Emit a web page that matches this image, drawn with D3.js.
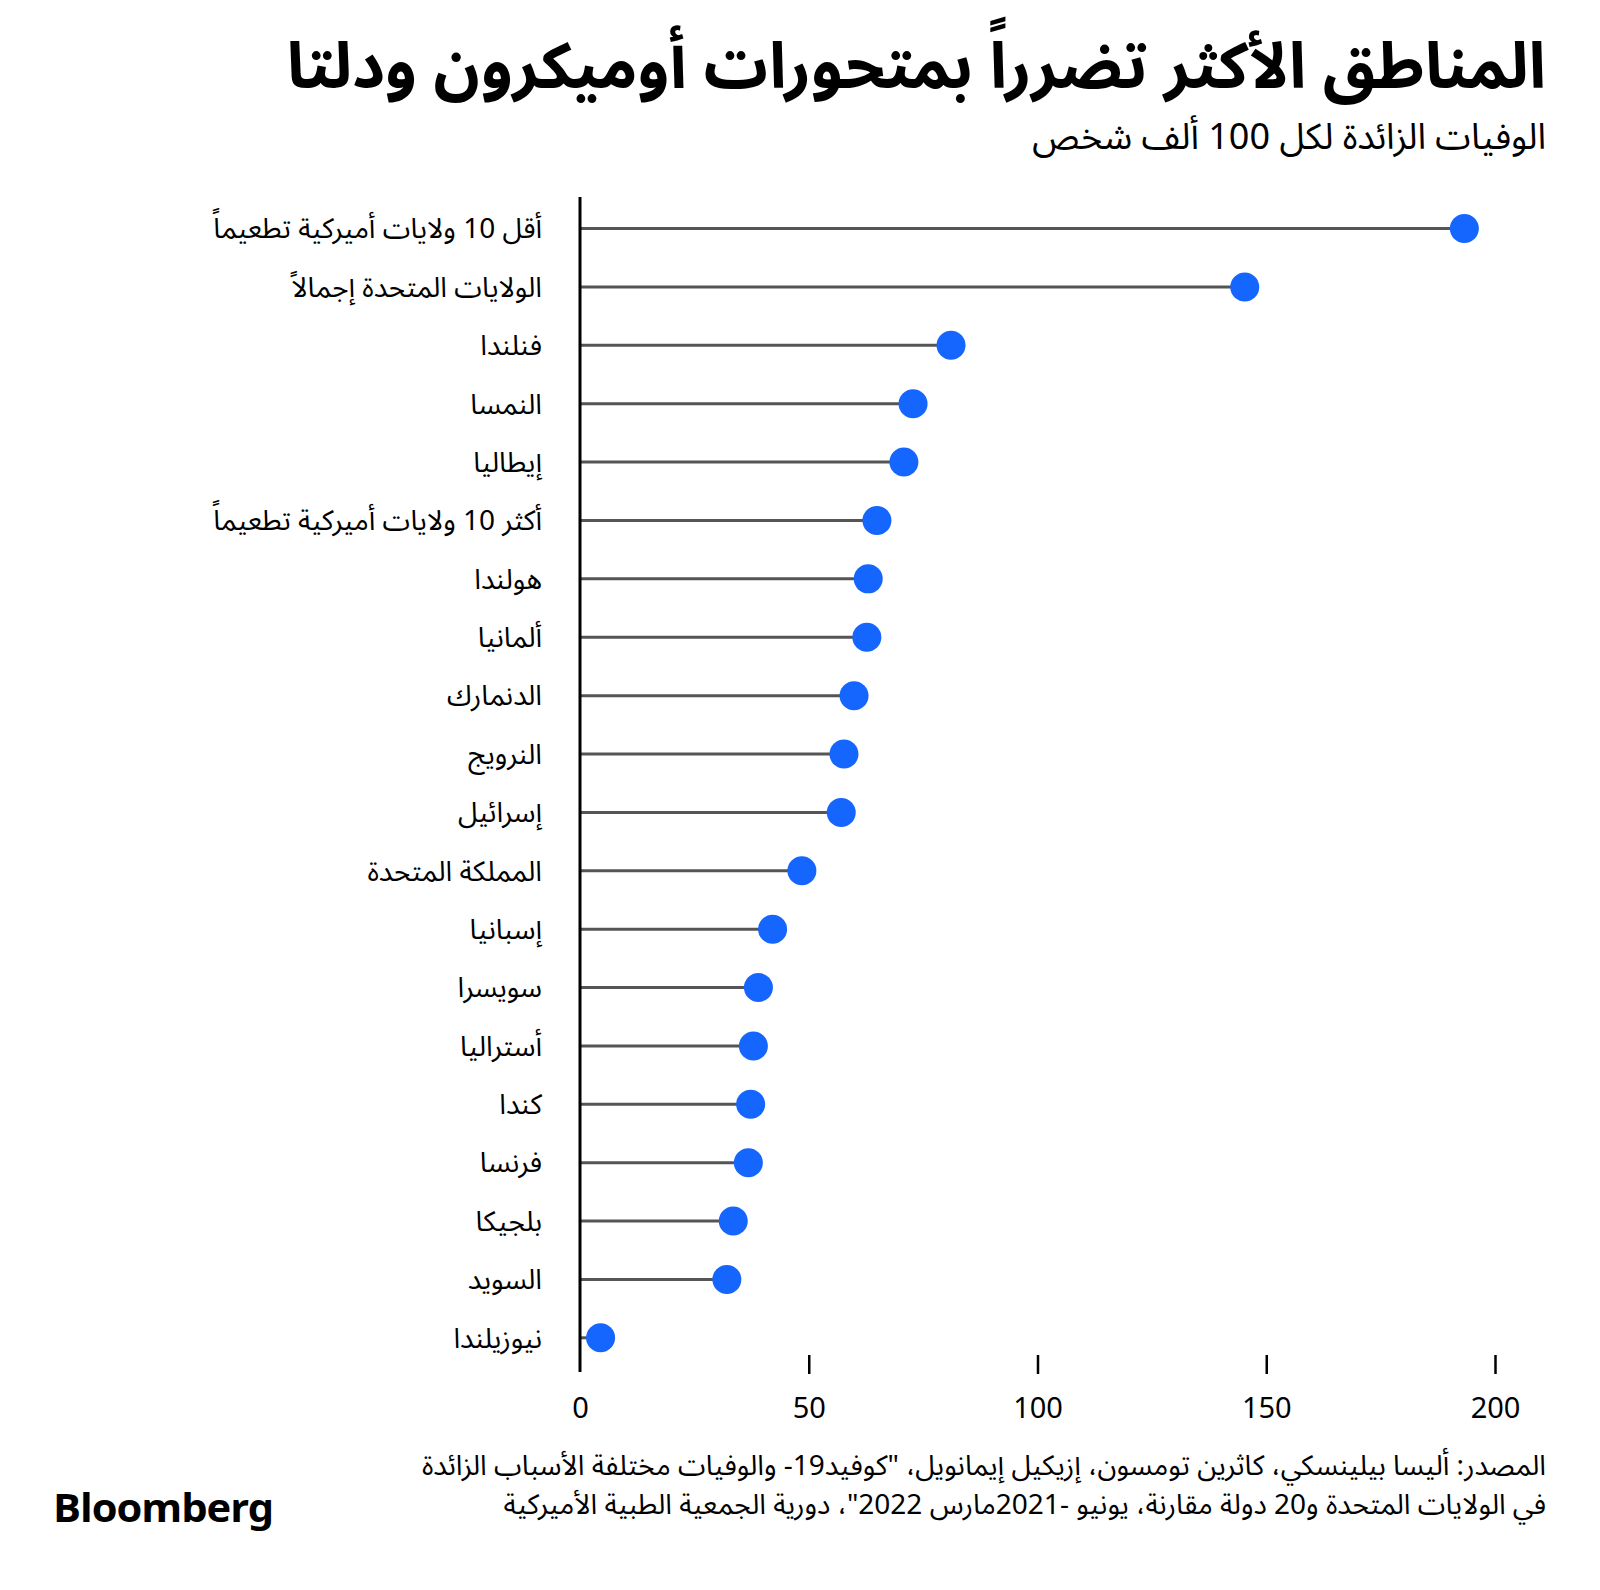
<!DOCTYPE html>
<html><head><meta charset="utf-8">
<script src="https://cdn.jsdelivr.net/npm/d3@7"></script>
<style>
html,body{margin:0;padding:0;background:#fff;}
text{font-family:"Noto Sans Arabic","Noto Sans","DejaVu Sans",sans-serif;}
</style></head>
<body>
<svg id="chart" width="1600" height="1590"></svg>
<script>
const categories = ["أقل 10 ولايات أميركية تطعيماً","الولايات المتحدة إجمالاً","فنلندا","النمسا","إيطاليا","أكثر 10 ولايات أميركية تطعيماً","هولندا","ألمانيا","الدنمارك","النرويج","إسرائيل","المملكة المتحدة","إسبانيا","سويسرا","أستراليا","كندا","فرنسا","بلجيكا","السويد","نيوزيلندا"];
const values = [193.3,145.3,81.1,72.8,70.8,64.9,63.0,62.7,59.9,57.7,57.1,48.5,42.1,39.0,37.9,37.3,36.8,33.5,32.1,4.5];
const tickValues = [0,50,100,150,200];
const title = "المناطق الأكثر تضرراً بمتحورات أوميكرون ودلتا";
const subtitle = "الوفيات الزائدة لكل 100 ألف شخص";
const sourceLines = ["المصدر: أليسا بيلينسكي، كاثرين تومسون، إزيكيل إيمانويل، \"كوفيد19- والوفيات مختلفة الأسباب الزائدة","في الولايات المتحدة و20 دولة مقارنة، يونيو -2021مارس 2022\"، دورية الجمعية الطبية الأميركية"];

const svg = d3.select("#chart");
const x = d3.scaleLinear().domain([0,200]).range([580,1495]);
const y = d3.scalePoint().domain(categories).range([228.6,1337.8]);

svg.append("text").attr("x",1546).attr("y",88).attr("text-anchor","start")
  .attr("direction","rtl").attr("font-size",64).attr("font-weight",700).attr("fill","#000").text(title);
svg.append("text").attr("x",1546).attr("y",149).attr("text-anchor","start")
  .attr("direction","rtl").attr("font-size",36).attr("fill","#000").text(subtitle);

const g = svg.append("g");
g.selectAll("line.stem").data(values).join("line").attr("class","stem")
  .attr("x1",x(0)).attr("x2",(d)=>x(d)).attr("y1",(d,i)=>y(categories[i])).attr("y2",(d,i)=>y(categories[i]))
  .attr("stroke","#555").attr("stroke-width",3);
g.selectAll("circle").data(values).join("circle")
  .attr("cx",d=>x(d)).attr("cy",(d,i)=>y(categories[i])).attr("r",14.5).attr("fill","#1565ff");
g.selectAll("text.lab").data(categories).join("text").attr("class","lab")
  .attr("x",542).attr("y",d=>y(d)).attr("dy","0.35em").attr("text-anchor","start").attr("direction","rtl")
  .attr("font-size",28).attr("fill","#000").text(d=>d);

svg.append("line").attr("x1",x(0)).attr("x2",x(0)).attr("y1",197).attr("y2",1372)
  .attr("stroke","#000").attr("stroke-width",3);

const axis = d3.axisBottom(x).tickValues(tickValues).tickSize(0).tickPadding(0);
const ax = svg.append("g").attr("transform","translate(0,1355)").call(axis);
ax.select(".domain").remove();
ax.selectAll(".tick line").attr("y2",19).attr("stroke","#000").attr("stroke-width",2.5)
  .attr("x1",0).attr("x2",0);
ax.selectAll(".tick").filter(d=>d===0).select("line").remove();
ax.selectAll(".tick text").attr("y",53).attr("dy","0.35em").attr("font-size",29).attr("fill","#000")
  .attr("font-family","\"Noto Sans\",\"Liberation Sans\",sans-serif");

svg.selectAll("text.src").data(sourceLines).join("text").attr("class","src")
  .attr("x",1546).attr("y",(d,i)=>1465+i*39).attr("dy","0.35em").attr("text-anchor","start").attr("direction","rtl")
  .attr("font-size",28).attr("fill","#000").text(d=>d);

svg.append("text").attr("x",53).attr("y",1522).attr("font-family","\"Liberation Sans\",Arial,sans-serif")
  .attr("font-weight",700).attr("font-size",40).attr("textLength",220).attr("lengthAdjust","spacingAndGlyphs")
  .attr("letter-spacing",-1).attr("fill","#000").text("Bloomberg");
</script>
</body></html>
